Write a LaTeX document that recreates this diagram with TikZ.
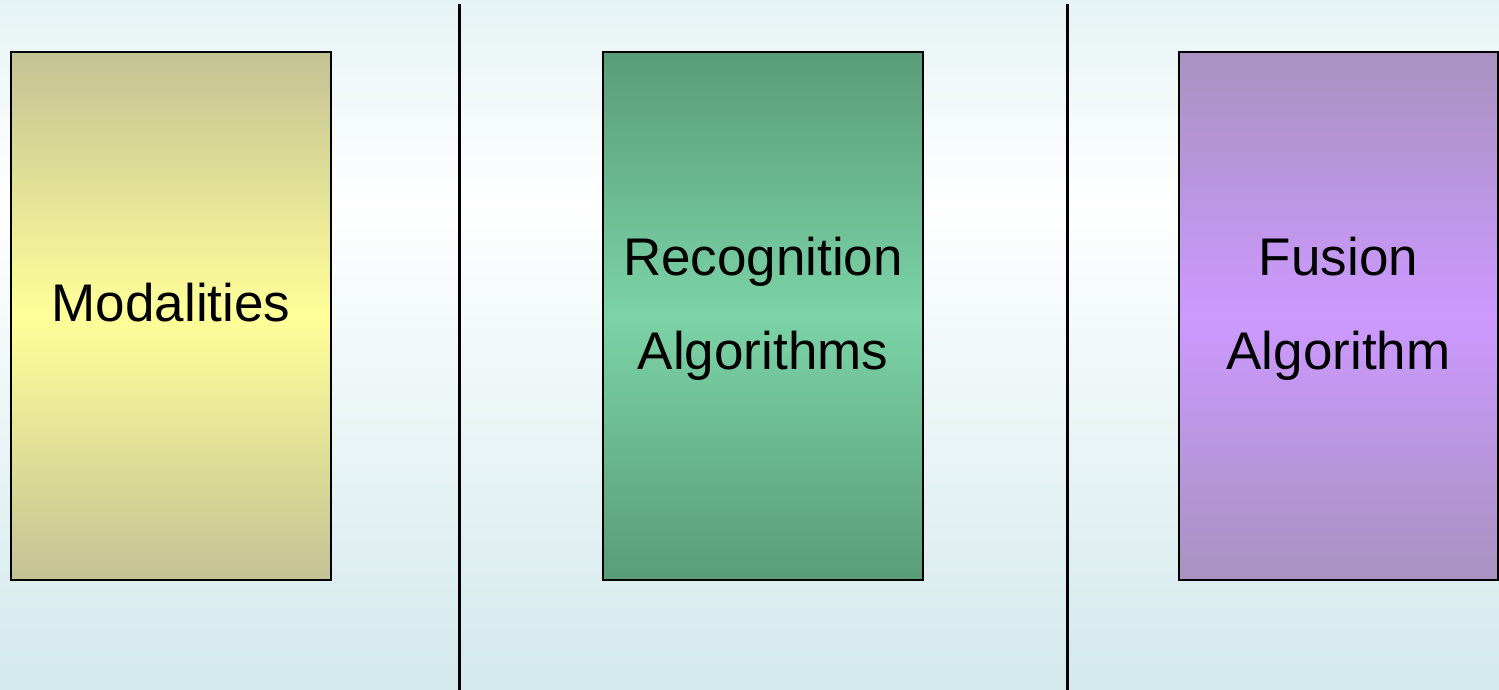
\documentclass[tikz,border=0pt]{standalone}
\usepackage{fontspec}
\setmainfont{Liberation Sans}
\definecolor{bgtop}{HTML}{E6F3F4}
\definecolor{bgbot}{HTML}{D3E9EC}
\definecolor{modedge}{HTML}{C3C295}
\definecolor{modmid}{HTML}{FFFF99}
\definecolor{recedge}{HTML}{5A9C78}
\definecolor{recmid}{HTML}{7BD3A6}
\definecolor{fusedge}{HTML}{A992C0}
\definecolor{fusmid}{HTML}{CC99FF}
\tikzset{
  stagebox/.style={draw=black, line width=1.5pt, minimum width=320pt, minimum height=528pt, inner sep=0pt},
  stagetext/.style={font=\fontsize{53}{94}\selectfont, align=center, text=black},
  divider/.style={line width=3pt, black}
}
\begin{document}
\begin{tikzpicture}[x=1pt,y=-1pt]
  \useasboundingbox (0,0) rectangle (1499,690);
  % background wash: pale cyan at the edges, white band near the top third
  \shade[top color=bgtop, bottom color=white] (0,0) rectangle (1499,200);
  \shade[top color=white, bottom color=bgbot] (0,200) rectangle (1499,690);
  % column dividers
  \coordinate (d1t) at (459,4); \coordinate (d1b) at (459,690);
  \coordinate (d2t) at (1067,4); \coordinate (d2b) at (1067,690);
  \draw[divider] (d1t) -- (d1b);
  \draw[divider] (d2t) -- (d2b);
  % stage boxes
  \node[stagebox, top color=modedge, bottom color=modedge, middle color=modmid] (mod) at (171,316) {};
  \node[stagebox, top color=recedge, bottom color=recedge, middle color=recmid] (rec) at (763,316) {};
  \node[stagebox, top color=fusedge, bottom color=fusedge, middle color=fusmid, minimum width=319pt] (fus) at (1338.5,316) {};
  % labels
  \node[stagetext] (modt) at (171,303) {Modalities};
  \node[stagetext] (rect) at (763,308.5) {Recognition\\Algorithms};
  \node[stagetext] (fust) at (1338.5,308.5) {Fusion\\Algorithm};
\end{tikzpicture}
\end{document}
